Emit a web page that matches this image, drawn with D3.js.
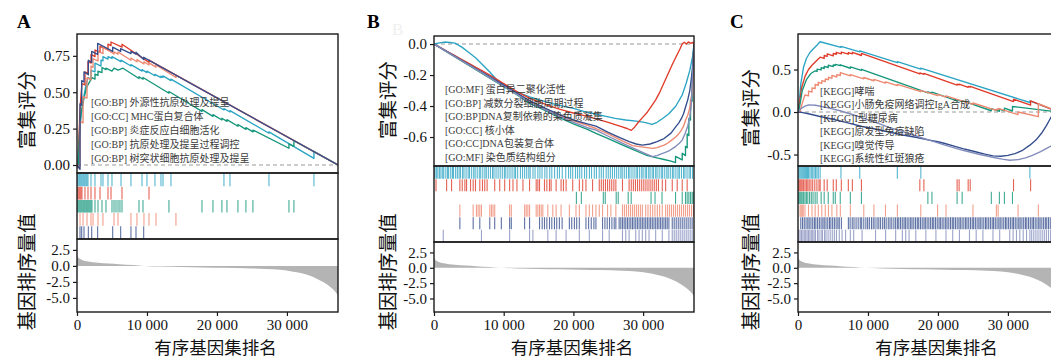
<!DOCTYPE html>
<html>
<head>
<meta charset="utf-8">
<script src="https://cdn.jsdelivr.net/npm/d3@7"></script>
<style>
  body { margin: 0; background: #fff; }
  svg { display: block; }
</style>
</head>
<body>
<svg id="chart" width="1051" height="359"></svg>
<script>
// ---------- data ----------
const RANK_MAX = 37300;

// ranked list metric (same for all panels)
const rankMetric = [
  [0, 1.7], [150, 1.35], [400, 1.1], [800, 0.9], [1400, 0.72], [2200, 0.58], [3000, 0.48],
  [4500, 0.36], [6000, 0.26], [8000, 0.13], [9600, 0.0], [12000, -0.1], [15000, -0.18],
  [18000, -0.24], [21000, -0.3], [24000, -0.37], [27000, -0.48], [29000, -0.62], [30500, -0.82],
  [31800, -1.08], [33000, -1.42], [34200, -1.95], [35300, -2.6], [36200, -3.3], [36800, -3.9],
  [37300, -4.6]
];
const rankTicks = [2.5, 0, -2.5, -5];
const xTicks = [0, 10000, 20000, 30000];

// panel A
const termsA = [
  '[GO:BP] 外源性抗原处理及提呈',
  '[GO:CC] MHC蛋白复合体',
  '[GO:BP] 炎症反应白细胞活化',
  '[GO:BP] 抗原处理及提呈过程调控',
  '[GO:BP] 树突状细胞抗原处理及提呈'
];
const esA1 = [[0,0],[150,0.05],[400,0.28],[900,0.45],[1290,0.55],[1570,0.6],[2000,0.59],[2000,0.65],[2570,0.64],[2570,0.7],[3430,0.68],[3430,0.72],[3710,0.715],[3710,0.745],[4430,0.728],[4430,0.745],[5000,0.732],[5000,0.745],[6290,0.71],[6290,0.72],[7710,0.68],[7710,0.69],[9290,0.645],[9290,0.655],[10000,0.635],[10000,0.645],[11140,0.613],[11140,0.623],[12000,0.6],[12000,0.61],[12290,0.602],[12290,0.612],[13430,0.58],[13430,0.59],[21000,0.378],[21000,0.388],[21860,0.364],[21860,0.374],[27430,0.218],[27430,0.228],[33860,0.045],[33860,0.093],[37300,0]];
const esA2 = [[0,0],[150,-0.02],[290,0.2],[430,0.38],[570,0.48],[710,0.56],[1140,0.55],[1140,0.64],[1570,0.63],[1570,0.71],[2000,0.7],[2000,0.76],[2570,0.745],[2570,0.79],[3290,0.775],[3290,0.815],[4430,0.79],[4430,0.83],[4860,0.82],[4860,0.845],[6430,0.81],[6430,0.83],[10290,0.705],[10290,0.72],[37300,0]];
const esA3 = [[0,0],[200,-0.01],[300,0.15],[570,0.35],[1000,0.46],[1380,0.535],[2140,0.6],[2570,0.59],[2570,0.625],[3000,0.615],[3000,0.645],[3570,0.635],[3570,0.67],[4140,0.655],[4140,0.665],[5000,0.645],[5300,0.665],[5860,0.652],[6570,0.665],[8860,0.594],[8860,0.606],[9430,0.589],[9430,0.601],[13140,0.493],[13140,0.505],[17860,0.368],[17860,0.38],[19430,0.334],[19430,0.346],[20710,0.309],[20710,0.321],[21430,0.3],[21430,0.312],[23000,0.266],[23000,0.278],[24140,0.245],[24140,0.257],[25140,0.228],[25140,0.24],[30290,0.115],[30290,0.145],[31000,0.128],[31000,0.168],[37300,0]];
const esA4 = [[0,0],[430,-0.01],[430,0.3],[860,0.29],[860,0.47],[1430,0.46],[1430,0.6],[2000,0.585],[2000,0.68],[2290,0.67],[2290,0.73],[3000,0.715],[3000,0.78],[3710,0.765],[3710,0.81],[5290,0.763],[5290,0.778],[5860,0.761],[5860,0.776],[7710,0.72],[7710,0.735],[8570,0.709],[8570,0.724],[9570,0.694],[9570,0.709],[10290,0.687],[10290,0.702],[11290,0.672],[11290,0.687],[14140,0.601],[14140,0.618],[37300,0]];
const esA5 = [[0,0],[430,-0.03],[430,0.42],[670,0.41],[670,0.58],[1000,0.57],[1000,0.64],[1620,0.62],[1620,0.72],[2100,0.705],[2100,0.78],[2950,0.76],[2950,0.835],[5100,0.78],[5100,0.81],[6240,0.78],[6240,0.8],[7710,0.765],[7710,0.78],[8430,0.762],[8430,0.775],[9530,0.725],[9530,0.74],[37300,0]];
const hitsA1 = [0,150,300,430,570,710,860,1000,1140,1290,1430,1570,2000,2570,3430,3710,4430,5000,6290,7710,9290,10000,11140,12000,12290,13430,21000,21860,27430,33860];
const hitsA2 = [0,140,290,430,570,710,1140,1570,2000,2570,3290,4430,4860,6430,10290];
const hitsA3 = [0,140,290,430,570,710,860,1000,1140,1290,1430,1570,1710,1860,2000,2140,2570,3000,3570,4140,5000,5290,5570,5860,6140,6430,8860,9430,13140,17860,19430,20710,21430,23000,24140,25140,30290,31000];
const hitsA4 = [430,860,1430,2000,2290,3000,3710,5290,5860,7710,8570,9570,10290,11290,14140];
const hitsA5 = [430,670,1000,1620,2100,2950,5100,6240,7710,8430,9530];

// panel B
const termsB = [
  '[GO:MF] 蛋白异二聚化活性',
  '[GO:BP] 减数分裂细胞周期过程',
  '[GO:BP]DNA复制依赖的染色质凝集',
  '[GO:CC] 核小体',
  '[GO:CC]DNA包装复合体',
  '[GO:MF] 染色质结构组分'
];
const esB1 = [[0,0],[800,0.008],[1500,0.013],[2300,0.01],[3000,0.006],[4000,-0.02],[5000,-0.055],[6000,-0.09],[7000,-0.135],[8000,-0.18],[9000,-0.23],[10430,-0.275],[11500,-0.3],[12500,-0.32],[14000,-0.345],[15500,-0.365],[17000,-0.385],[18500,-0.4],[20000,-0.415],[21500,-0.435],[23000,-0.45],[24500,-0.465],[26000,-0.48],[27500,-0.49],[29000,-0.497],[30200,-0.505],[31290,-0.518],[32000,-0.505],[32800,-0.48],[33700,-0.45],[34700,-0.4],[35600,-0.33],[36200,-0.25],[36700,-0.17],[37100,-0.08],[37300,0]];
const esB2 = [[0,0],[1000,-0.025],[2000,-0.05],[3000,-0.075],[4000,-0.1],[5000,-0.125],[6000,-0.15],[7000,-0.175],[8000,-0.2],[9000,-0.228],[10000,-0.255],[11000,-0.282],[12000,-0.31],[13000,-0.333],[14000,-0.355],[15000,-0.372],[16000,-0.39],[17000,-0.405],[18000,-0.42],[19000,-0.433],[20000,-0.445],[21000,-0.455],[22000,-0.467],[23000,-0.48],[24000,-0.493],[25000,-0.505],[26000,-0.52],[27000,-0.535],[27700,-0.545],[28300,-0.557],[28800,-0.535],[29400,-0.5],[30000,-0.47],[30600,-0.44],[31200,-0.4],[31800,-0.36],[32400,-0.31],[33000,-0.25],[33600,-0.19],[34200,-0.13],[34800,-0.075],[35300,-0.03],[35600,0],[35900,0.012],[36200,0],[36500,0.014],[36800,0.005],[37100,0.01],[37300,0]];
const esB3 = [[0,0],[2000,-0.055],[4000,-0.11],[6000,-0.165],[8000,-0.22],[10000,-0.275],[12000,-0.33],[13710,-0.383],[16000,-0.43],[18000,-0.475],[20000,-0.515],[22000,-0.55],[23240,-0.576],[25000,-0.61],[27000,-0.65],[28500,-0.68],[30380,-0.716],[32000,-0.735],[33000,-0.745],[34000,-0.755],[34650,-0.765],[34650,-0.725],[35610,-0.748],[35610,-0.705],[36080,-0.72],[36080,-0.66],[36320,-0.67],[36320,-0.58],[36560,-0.59],[36560,-0.48],[36800,-0.49],[36800,-0.36],[37030,-0.37],[37030,-0.2],[37300,0]];
const esB4 = [[0,0],[2000,-0.053],[4000,-0.107],[6000,-0.16],[8000,-0.215],[10000,-0.27],[12000,-0.325],[13710,-0.37],[16000,-0.42],[18000,-0.46],[20000,-0.495],[22000,-0.525],[23240,-0.545],[25000,-0.58],[27000,-0.625],[28500,-0.655],[30000,-0.665],[31330,-0.673],[32000,-0.668],[32500,-0.66],[33000,-0.652],[33500,-0.64],[34100,-0.62],[34670,-0.6],[35100,-0.58],[35500,-0.555],[35800,-0.53],[36100,-0.49],[36400,-0.46],[36700,-0.41],[37060,-0.3],[37300,0]];
const esB5 = [[0,0],[2000,-0.052],[4000,-0.105],[6000,-0.158],[8000,-0.21],[10000,-0.265],[12000,-0.32],[13710,-0.365],[16000,-0.415],[18000,-0.455],[20000,-0.49],[22000,-0.515],[23240,-0.53],[25000,-0.57],[26500,-0.6],[28000,-0.63],[29000,-0.645],[29900,-0.652],[31000,-0.645],[32000,-0.63],[33000,-0.61],[34000,-0.575],[34670,-0.535],[35100,-0.51],[35500,-0.48],[35800,-0.45],[36100,-0.405],[36400,-0.36],[36700,-0.3],[37060,-0.17],[37300,0]];
const esB6 = [[0,0],[2000,-0.054],[4000,-0.108],[6000,-0.162],[8000,-0.217],[10000,-0.272],[12000,-0.327],[13710,-0.375],[16000,-0.425],[18000,-0.467],[20000,-0.505],[22000,-0.54],[23240,-0.555],[25000,-0.595],[27000,-0.64],[28000,-0.66],[29000,-0.68],[30000,-0.7],[31330,-0.727],[32000,-0.72],[32500,-0.71],[33100,-0.7],[33700,-0.69],[34200,-0.675],[34700,-0.66],[35200,-0.64],[35600,-0.62],[36000,-0.58],[36400,-0.53],[36700,-0.47],[36900,-0.4],[37300,0]];
const hitsB1 = [0,150,380,560,800,1000,1250,1400,1700,1950,2100,2400,2650,2800,3100,3350,3600,3800,4100,4300,4600,4900,5100,5400,5700,5900,6200,6500,6700,7000,7300,7500,7800,8100,8400,8600,8900,9200,9500,9800,10100,10300,10600,10900,11200,11500,11700,12000,12400,12700,13000,13300,13600,13800,14200,14500,14900,15200,15500,15900,16200,16600,16900,17300,17700,18000,18400,18900,19300,19600,19900,20300,20600,20900,21200,21600,21900,22300,22600,23000,23300,23700,24000,24300,24700,25000,25300,25600,25900,26200,26500,26800,27000,27300,27600,27900,28100,28400,28700,29000,29200,29500,29800,30000,30300,30500,30800,31000,31300,31500,31800,32000,32300,32600,32800,33100,33400,33600,33900,34200,34400,34700,35000,35200,35500,35800,36000,36300,36600,36800,37100];
const hitsB2 = [290,1810,2520,3710,4050,4430,4670,5240,5620,5950,6570,6950,7280,7620,8710,9430,10140,10850,11330,11900,12760,13710,14660,14900,15140,15850,16190,16570,16800,17520,18230,18570,18950,19900,20850,21330,21800,22750,23710,24000,24300,24600,24900,25200,25500,25800,26090,27040,27990,28300,28600,28900,29200,29500,29800,30100,30400,30700,31000,31300,31600,31900,32200,32750,33230,34180,34890,35610,36320];
const hitsB3 = [20430,21140,24290,24570,26140,26430,27860,28290,31140,31710,32710,34650,35610,36080,36320,36560,36800,37030,37200];
const hitsB4 = [3710,5620,6090,6330,6570,6810,8000,8240,8470,8710,10850,11090,13000,13230,13470,13710,14660,14900,15140,15380,15610,16330,17040,17520,18230,19420,20370,20850,21800,22280,22750,23230,23710,24180,24900,25370,26090,27040,27320,27610,27900,28180,28470,28750,29040,29320,29610,29890,30370,30700,31040,31370,31700,32040,32370,32750,33230,33510,33800,34080,34370,34650,34940,35230,35510,35800,36080,36370,36650,36940,37220];
const hitsB5 = [3710,5620,6570,8000,8710,9660,10850,11090,13000,13710,15140,15520,15850,16190,16570,16900,17280,17610,17990,18380,19420,19760,20140,20470,20850,21800,22180,22560,22940,23230,24180,24520,24850,25180,25520,25850,26090,26560,26800,27040,27280,27510,27750,27990,28230,28470,28700,28940,29180,29420,29660,29890,30130,30370,30610,30850,31080,31320,31560,31800,32040,32270,32510,32750,32990,33230,33460,33700,34180,34460,34750,35040,35320,35610,35890,36180,36460,36750,37030];
const hitsB6 = [1330,6810,10850,13710,14190,16330,17520,18950,20850,22280,24180,25130,27040,27510,27990,28940,29420,29890,30370,30850,31800,32750,33700,34180,34460,34750,35040,35320,35610,35890,36180,36460,36750,37030];

// panel C
const termsC = [
  '[KEGG]哮喘',
  '[KEGG]小肠免疫网络调控IgA合成',
  '[KEGG]I型糖尿病',
  '[KEGG]原发型免疫缺陷',
  '[KEGG]嗅觉传导',
  '[KEGG]系统性红斑狼疮'
];
const esC1 = [[0,0],[150,0.1],[400,0.33],[800,0.53],[1200,0.63],[1700,0.7],[2200,0.745],[2700,0.785],[3165,0.827],[6138,0.76],[6138,0.772],[8824,0.708],[8824,0.72],[14196,0.58],[14196,0.592],[17553,0.505],[17553,0.517],[33140,0.112],[33140,0.13],[37300,0]];
const esC2 = [[0,0],[200,0.1],[500,0.28],[1000,0.42],[1500,0.5],[2000,0.55],[2600,0.6],[3166,0.645],[3740,0.63],[3740,0.665],[4170,0.655],[4170,0.683],[5040,0.66],[5040,0.69],[5470,0.68],[5470,0.703],[6190,0.685],[6190,0.706],[7195,0.68],[7195,0.7],[7770,0.685],[7770,0.703],[9065,0.665],[9065,0.69],[17410,0.448],[17410,0.46],[17990,0.443],[17990,0.455],[22740,0.317],[22740,0.327],[23025,0.319],[23025,0.329],[24320,0.291],[24320,0.301],[24610,0.293],[24610,0.303],[30800,0.123],[30800,0.152],[33240,0.082],[33240,0.13],[37300,0]];
const esC3 = [[0,0],[200,0.05],[600,0.25],[1200,0.38],[1800,0.45],[2450,0.485],[2730,0.477],[2730,0.505],[3310,0.495],[3310,0.522],[3740,0.512],[3740,0.537],[4320,0.524],[4320,0.55],[5040,0.535],[5040,0.553],[5330,0.548],[5330,0.56],[6040,0.545],[6040,0.556],[7480,0.515],[7480,0.53],[9065,0.49],[9065,0.503],[18560,0.225],[18560,0.238],[19140,0.222],[19140,0.235],[22740,0.13],[22740,0.143],[23460,0.122],[23460,0.135],[27630,0.015],[27630,0.04],[28780,0.008],[28780,0.035],[29500,0.014],[29500,0.045],[30650,0.012],[30650,0.065],[37300,0]];
const esC4 = [[0,0],[300,0],[450,0.06],[600,0.1],[750,0.14],[1000,0.2],[1500,0.19],[1500,0.245],[2000,0.235],[2000,0.285],[2450,0.275],[2450,0.325],[2900,0.315],[2900,0.35],[3400,0.338],[3400,0.37],[3900,0.358],[3900,0.39],[4350,0.378],[4350,0.41],[4850,0.397],[4850,0.43],[5550,0.412],[5550,0.44],[6050,0.43],[6050,0.463],[7480,0.426],[7480,0.441],[9400,0.391],[9400,0.406],[10850,0.368],[10850,0.383],[12500,0.34],[12500,0.355],[14200,0.311],[14200,0.326],[17550,0.239],[17550,0.254],[19950,0.192],[19950,0.207],[21150,0.176],[21150,0.191],[25000,0.091],[25000,0.106],[28350,0.019],[28350,0.034],[28600,0.028],[28600,0.043],[31450,-0.031],[31450,0],[34350,-0.055],[34350,0.1],[37300,0]];
const esC5 = [[0,0],[500,-0.005],[1500,-0.02],[3000,-0.05],[5000,-0.085],[7000,-0.125],[9160,-0.17],[11000,-0.2],[13000,-0.235],[15000,-0.27],[17000,-0.3],[18750,-0.33],[20000,-0.35],[21000,-0.37],[22300,-0.4],[23550,-0.43],[24500,-0.45],[25500,-0.47],[26700,-0.495],[27870,-0.515],[29000,-0.52],[30000,-0.51],[31000,-0.49],[32000,-0.455],[33140,-0.39],[34000,-0.33],[34800,-0.25],[35500,-0.16],[36000,-0.085],[36400,-0.03],[37300,0]];
const esC6 = [[0,0],[400,0.04],[1000,0.07],[1500,0.085],[2500,0.08],[4000,0.055],[6000,0.015],[8000,-0.035],[9160,-0.07],[11000,-0.12],[13000,-0.18],[15000,-0.23],[17000,-0.285],[18750,-0.33],[21000,-0.39],[23550,-0.45],[26000,-0.5],[28000,-0.535],[29200,-0.555],[30260,-0.567],[31500,-0.56],[32500,-0.54],[33500,-0.51],[34670,-0.465],[35600,-0.425],[36400,-0.39],[37000,-0.2],[37300,0]];
const hitsC1 = [0,150,300,450,600,750,900,1050,1200,1350,1500,1700,1900,2100,2300,2500,2700,2900,3165,6138,8824,14196,17553,33140];
const hitsC2 = [0,150,300,450,600,800,1000,1200,1400,1600,1850,2100,2400,2700,3000,3166,3740,4170,5040,5470,6190,7195,7770,9065,17410,17990,22740,23025,24320,24610,30800,33240];
const hitsC3 = [0,150,300,450,600,800,1000,1200,1400,1650,1900,2150,2450,2730,3310,3740,4320,5040,5330,6040,7480,9065,18560,19140,22740,23460,27630,28780,29500,30650];
const hitsC4 = [300,450,600,750,1000,1500,2000,2450,2900,3400,3900,4350,4850,5550,6050,7480,9400,10850,12500,14200,17550,19950,21150,25000,28350,28600,31450,34350];
const hitsC5 = [400,650,900,1150,1400,1600,1850,2100,2350,2550,2800,3050,3300,3550,3750,4000,4250,4500,4700,4950,5200,5450,5700,5900,6200,7200,7450,7750,8000,8300,8600,8900,9100,9400,9700,9950,10200,10500,10750,11000,11300,11550,11800,12100,12350,12600,12900,13150,13400,13700,13950,14200,14400,14650,14900,15150,15350,15600,15850,16100,16300,16550,16800,17050,17250,17500,17750,18000,18200,18450,18700,18950,19200,19400,19650,19900,20150,20350,20600,20850,21100,21300,21550,21800,22050,22250,22500,22750,23000,23200,23450,23700,23950,24150,24400,24650,24900,25100,25350,25600,25850,26050,26300,26550,26800,27000,27250,27500,27750,27950,28200,28450,28700,28900,29150,29400,29650,29850,30100,30350,30600,30800,31050,31300,31550,31750,32000,32250,32500,32700,32950,33200,33450,33650,33900,34150,34400,34600,34850,35100,35350,35550,35800,36050,36300,36500,36800,37000,37200];
const hitsC6 = [100,300,500,700,900,1100,1300,1500,1700,1900,2100,2300,2500,2800,3000,3300,3500,3800,4000,4300,4600,4900,5200,5500,5900,6300,6800,7480,7960,9160,11080,12520,13956,14915,15395,15874,16834,18272,19711,21150,22109,23068,24507,25466,26426,27865,28824,30262,30742,31222,31701,32181,32660,33140,33400,33700,34000,34300,34600,34900,35200,35500,35800,36100,36400,36700,37000];

// ---------- styles / layout ----------
const setColors = ['#2aa4c3', '#e03b29', '#14967a', '#ee8870', '#344d8d', '#828cbb'];
const NUM_FONT = "'Liberation Serif', 'Times New Roman', serif";
const TEXT_FONT = "'Liberation Serif', 'Noto Sans CJK SC', serif";
const CJK_FONT = "'Noto Sans CJK SC', sans-serif";

const panels = [
  { label: 'A', x0: 77, x1: 338, top: 34, esBottom: 173, hitBottom: 239, bottom: 312,
    esDomain: [-0.055, 0.9], esTicks: [0, 0.25, 0.5, 0.75], esFmt: '.2f',
    terms: termsA, curves: [esA1, esA2, esA3, esA4, esA5], hits: [hitsA1, hitsA2, hitsA3, hitsA4, hitsA5],
    legendX: 91, legendY: 106, legendStep: 14, titleX: 25, esTitleY: 110, labelX: 17 },
  { label: 'B', x0: 434, x1: 694, top: 36, esBottom: 166, hitBottom: 242, bottom: 312,
    esDomain: [-0.787, 0.052], esTicks: [0, -0.2, -0.4, -0.6], esFmt: '.1f',
    terms: termsB, curves: [esB1, esB2, esB3, esB4, esB5, esB6], hits: [hitsB1, hitsB2, hitsB3, hitsB4, hitsB5, hitsB6],
    legendX: 445, legendY: 93, legendStep: 13.6, titleX: 386, esTitleY: 100, labelX: 367, ghost: [392, 35] },
  { label: 'C', x0: 798, x1: 1059, top: 34, esBottom: 166, hitBottom: 242, bottom: 312,
    esDomain: [-0.635, 0.918], esTicks: [-0.5, 0, 0.5], esFmt: '.1f',
    terms: termsC, curves: [esC1, esC2, esC3, esC4, esC5, esC6], hits: [hitsC1, hitsC2, hitsC3, hitsC4, hitsC5, hitsC6],
    legendX: 820, legendY: 95, legendStep: 13.4, titleX: 749, esTitleY: 108, labelX: 730 }
];

const svg = d3.select('#chart');

function minusFmt(spec) {
  const f = d3.format(spec);
  return (d) => f(d).replace('\u2212', '-');
}

function styleAxis(sel) {
  sel.select('.domain').remove();
  sel.selectAll('.tick line').attr('stroke', '#1a1a1a').attr('stroke-width', 1.2);
  sel.selectAll('.tick text')
    .attr('fill', '#111')
    .style('font-family', NUM_FONT)
    .style('font-size', '15px');
}

function drawPanel(p, idx) {
  const g = svg.append('g');
  const x = d3.scaleLinear().domain([0, RANK_MAX]).range([p.x0, p.x1]);
  const yEs = d3.scaleLinear().domain(p.esDomain).range([p.esBottom, p.top]);
  const yRank = d3.scaleLinear().domain([-7.2, 4.2]).range([p.bottom, p.hitBottom]);

  const clipId = 'clip' + idx;
  svg.append('clipPath').attr('id', clipId)
    .append('rect')
    .attr('x', p.x0).attr('y', p.top)
    .attr('width', p.x1 - p.x0).attr('height', p.bottom - p.top);

  const inner = g.append('g').attr('clip-path', `url(#${clipId})`);

  // zero line
  inner.append('line')
    .attr('x1', p.x0).attr('x2', p.x1)
    .attr('y1', yEs(0)).attr('y2', yEs(0))
    .attr('stroke', '#9a9a9a')
    .attr('stroke-width', 1.1)
    .attr('stroke-dasharray', '4,3');

  // running enrichment score curves
  const line = d3.line().x((d) => x(d[0])).y((d) => yEs(d[1]));
  p.curves.forEach((c, i) => {
    inner.append('path')
      .datum(c)
      .attr('fill', 'none')
      .attr('stroke', setColors[i])
      .attr('stroke-width', 1.35)
      .attr('stroke-linejoin', 'round')
      .attr('d', line);
  });

  // hit ticks
  const rowH = (p.hitBottom - p.esBottom) / p.hits.length;
  p.hits.forEach((h, i) => {
    inner.append('g')
      .selectAll('line')
      .data(h)
      .join('line')
      .attr('x1', (d) => x(d)).attr('x2', (d) => x(d))
      .attr('y1', p.esBottom + i * rowH + 0.5)
      .attr('y2', p.esBottom + (i + 1) * rowH)
      .attr('stroke', setColors[i])
      .attr('stroke-width', 1.1)
      .attr('stroke-opacity', 0.8);
  });

  // ranked metric
  const area = d3.area()
    .x((d) => x(d[0]))
    .y0(yRank(0))
    .y1((d) => yRank(d[1]))
    .curve(d3.curveMonotoneX);
  inner.append('path')
    .datum(rankMetric)
    .attr('fill', '#b4b4b4')
    .attr('d', area);

  // legend
  p.terms.forEach((t, i) => {
    g.append('text')
      .attr('x', p.legendX)
      .attr('y', p.legendY + i * p.legendStep)
      .attr('fill', '#3a3a3a')
      .style('font-family', TEXT_FONT)
      .style('font-size', '10px')
      .text(t);
  });

  // frames
  [[p.top, p.esBottom], [p.esBottom, p.hitBottom], [p.hitBottom, p.bottom]].forEach(([a, b]) => {
    g.append('rect')
      .attr('x', p.x0).attr('y', a)
      .attr('width', p.x1 - p.x0).attr('height', b - a)
      .attr('fill', 'none')
      .attr('stroke', '#1a1a1a')
      .attr('stroke-width', 1.4);
  });

  // axes
  g.append('g')
    .attr('transform', `translate(${p.x0},0)`)
    .call(d3.axisLeft(yEs).tickValues(p.esTicks).tickSize(4).tickPadding(3).tickFormat(minusFmt(p.esFmt)))
    .call(styleAxis);

  g.append('g')
    .attr('transform', `translate(${p.x0},0)`)
    .call(d3.axisLeft(yRank).tickValues(rankTicks).tickSize(4).tickPadding(3).tickFormat(minusFmt('.1f')))
    .call(styleAxis);

  g.append('g')
    .attr('transform', `translate(0,${p.bottom})`)
    .call(d3.axisBottom(x).tickValues(xTicks).tickSize(4).tickPadding(3)
      .tickFormat((d) => (d === 0 ? '0' : d3.format(',')(d).replace(/,/g, ' '))))
    .call(styleAxis);

  // titles
  g.append('text')
    .attr('transform', `translate(${p.titleX},${p.esTitleY}) rotate(-90)`)
    .attr('text-anchor', 'middle')
    .attr('dominant-baseline', 'central')
    .attr('fill', '#111')
    .style('font-family', CJK_FONT)
    .style('font-size', '19.5px')
    .text('富集评分');

  g.append('text')
    .attr('transform', `translate(${p.titleX},272) rotate(-90)`)
    .attr('text-anchor', 'middle')
    .attr('dominant-baseline', 'central')
    .attr('fill', '#111')
    .style('font-family', CJK_FONT)
    .style('font-size', '19.5px')
    .text('基因排序量值');

  g.append('text')
    .attr('x', (p.x0 + p.x1) / 2 + 8)
    .attr('y', 353.5)
    .attr('text-anchor', 'middle')
    .attr('fill', '#111')
    .style('font-family', CJK_FONT)
    .style('font-size', '17.5px')
    .text('有序基因集排名');

  if (p.ghost) {
    g.append('text')
      .attr('x', p.ghost[0]).attr('y', p.ghost[1])
      .attr('fill', '#efefef')
      .style('font-family', NUM_FONT)
      .style('font-size', '17px')
      .text(p.label);
  }

  g.append('text')
    .attr('x', p.labelX)
    .attr('y', 28)
    .attr('fill', '#000')
    .style('font-family', NUM_FONT)
    .style('font-weight', 'bold')
    .style('font-size', '19px')
    .text(p.label);
}

panels.forEach(drawPanel);
</script>
</body>
</html>
